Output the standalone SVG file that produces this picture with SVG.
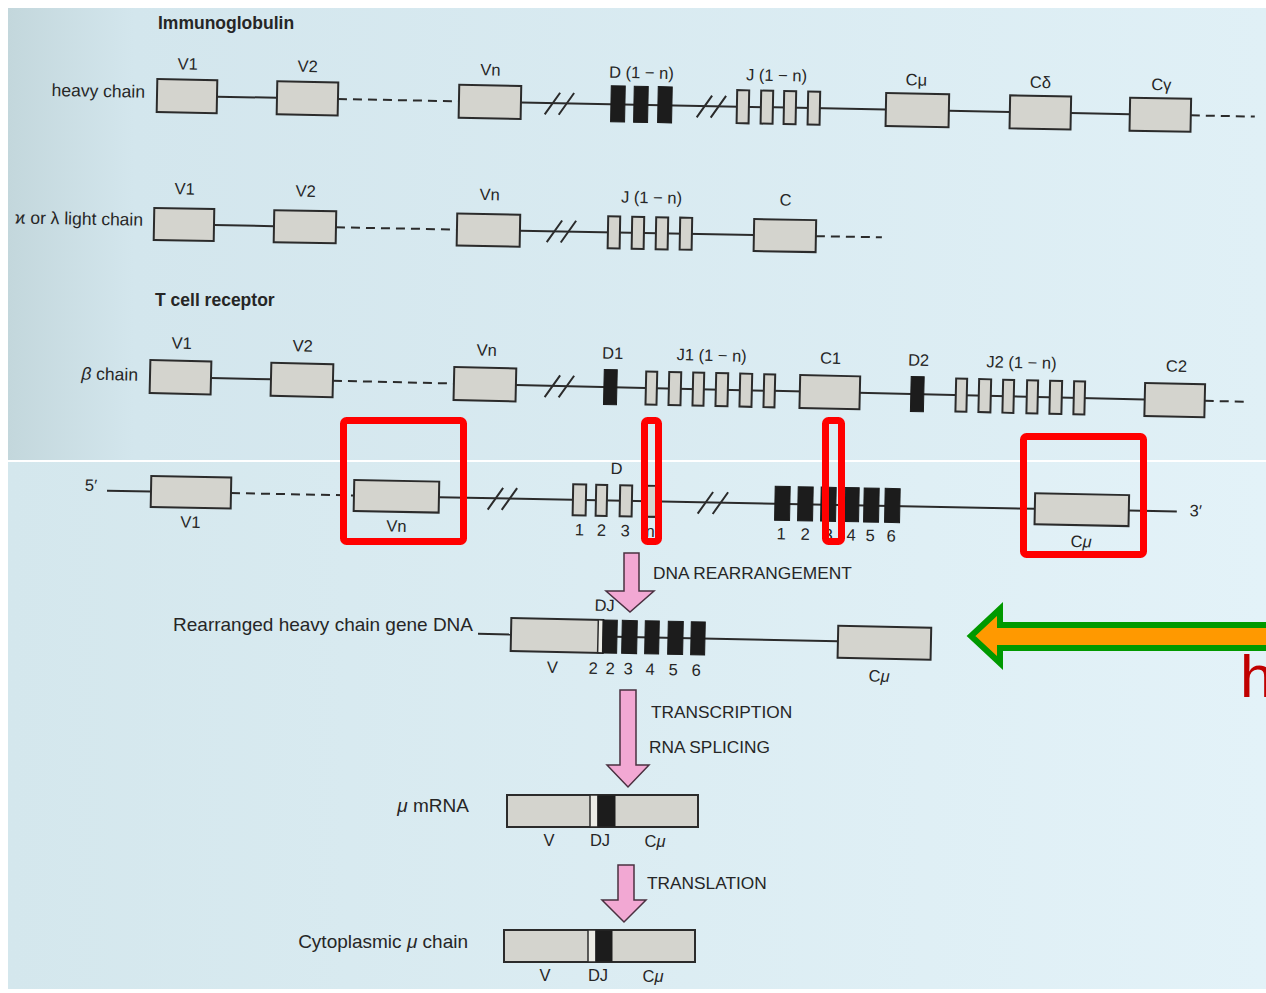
<svg xmlns="http://www.w3.org/2000/svg" width="1266" height="993" viewBox="0 0 1266 993">
<defs>
<linearGradient id="bgTop" x1="0" y1="0" x2="1" y2="0">
<stop offset="0" stop-color="#c3d7dc"/>
<stop offset="0.1" stop-color="#d3e6ed"/>
<stop offset="1" stop-color="#e0f0f6"/>
</linearGradient>
<linearGradient id="bgBot" x1="0" y1="0" x2="1" y2="0">
<stop offset="0" stop-color="#d4e7ed"/>
<stop offset="1" stop-color="#e3f2f8"/>
</linearGradient>
<style>
.t{font-family:"Liberation Sans",Arial,sans-serif;fill:#262626}
.lbl{font-size:16.5px;text-anchor:middle}
.sm{font-size:16.5px;text-anchor:middle}
.row{font-size:17.5px;text-anchor:end}
.row2{font-size:19px;text-anchor:end}
.hd{font-size:17.5px;font-weight:bold}
.step{font-size:17.3px}
.box{fill:#d4d4ce;stroke:#2b2b2b;stroke-width:2}
.strip{fill:#ecece6;stroke:#2b2b2b;stroke-width:1.5}
.blk{fill:#1c1c1c;stroke:#1c1c1c;stroke-width:1}
.ln{stroke:#2b2b2b;stroke-width:2;fill:none}
.dash{stroke:#2b2b2b;stroke-width:2;stroke-dasharray:9 6;fill:none}
.pink{fill:#f2a8d3;stroke:#4a3040;stroke-width:1.5}
.red{fill:none;stroke:#ff0000;stroke-width:7}
</style>
</defs>
<rect x="0" y="0" width="1266" height="993" fill="#ffffff"/>
<rect x="8" y="8" width="1258" height="452" fill="url(#bgTop)"/>
<rect x="8" y="462" width="1258" height="527" fill="url(#bgBot)"/>

<!-- connectors -->
<g id="connectors">
  <g transform="rotate(1.1 157 95.5)">
    <line class="ln" x1="217" y1="95.5" x2="277" y2="95.5"/>
    <line class="dash" x1="338" y1="95.5" x2="459" y2="95.5"/>
    <line class="ln" x1="521" y1="95.5" x2="886" y2="95.5"/>
    <line class="ln" x1="949" y1="95.5" x2="1010" y2="95.5"/>
    <line class="ln" x1="1071" y1="95.5" x2="1130" y2="95.5"/>
    <line class="dash" x1="1191" y1="95.5" x2="1255" y2="95.5"/>
    <path class="ln" d="M545,107 L560,85 M559,107 L574,85 M697,107 L712,85 M711,107 L726,85"/>
  </g>
  <g transform="rotate(1.05 154 224)">
    <line class="ln" x1="214" y1="224" x2="274" y2="224"/>
    <line class="dash" x1="336" y1="224" x2="457" y2="224"/>
    <line class="ln" x1="520" y1="224" x2="754" y2="224"/>
    <line class="dash" x1="816" y1="224" x2="882" y2="224"/>
    <path class="ln" d="M547,235 L562,213 M561,235 L576,213"/>
  </g>
  <g transform="rotate(1.32 150 376.5)">
    <line class="ln" x1="211" y1="376.5" x2="271" y2="376.5"/>
    <line class="dash" x1="333" y1="376.5" x2="454" y2="376.5"/>
    <line class="ln" x1="516" y1="376.5" x2="1145" y2="376.5"/>
    <line class="dash" x1="1205" y1="376.5" x2="1244" y2="376.5"/>
    <path class="ln" d="M545,388 L560,366 M559,388 L574,366"/>
  </g>
  <g transform="rotate(1.12 151 491.5)">
    <line class="ln" x1="107" y1="491.5" x2="151" y2="491.5"/>
    <line class="dash" x1="231" y1="491.5" x2="354" y2="491.5"/>
    <line class="ln" x1="439" y1="491.5" x2="1035" y2="491.5"/>
    <line class="ln" x1="1129" y1="491.5" x2="1177" y2="491.5"/>
    <path class="ln" d="M488,503 L503,481 M502,503 L517,481 M698,503 L713,481 M713,503 L728,481"/>
  </g>
  <g transform="rotate(1.2 511 634.5)">
    <line class="ln" x1="478" y1="634.5" x2="511" y2="634.5"/>
    <line class="ln" x1="603" y1="634.5" x2="838" y2="634.5"/>
  </g>
  <path id="arrow-rearrangement" class="pink" d="M624,553 H639 V591 H654 L630,612 L606,591 H624 Z"/>
  <path id="arrow-transcription" class="pink" d="M620,690 H636 V765 H649 L628,787 L607,765 H620 Z"/>
  <path id="arrow-translation" class="pink" d="M618,865 H634 V900 H646 L624,922 L602,900 H618 Z"/>
</g>

<!-- headings -->
<text class="t hd" x="158" y="29">Immunoglobulin</text>
<text class="t hd" x="155" y="306">T cell receptor</text>

<!-- row 1: heavy chain -->
<g id="ig-heavy" transform="rotate(1.1 157 95.5)">
  <text class="t row" x="145" y="98">heavy chain</text>
  <g id="ig-h-V1"><rect class="box" x="157" y="79" width="60" height="33"/><text class="t lbl" x="187" y="69">V1</text></g>
  <g id="ig-h-V2"><rect class="box" x="277" y="79" width="61" height="33"/><text class="t lbl" x="307" y="69">V2</text></g>
  <g id="ig-h-Vn"><rect class="box" x="459" y="79" width="62" height="33"/><text class="t lbl" x="490" y="69">Vn</text></g>
  <g id="ig-h-D">
    <rect class="blk" x="611" y="77" width="14" height="36"/>
    <rect class="blk" x="634" y="77" width="14" height="36"/>
    <rect class="blk" x="658" y="77" width="14" height="36"/>
    <text class="t lbl" x="641" y="69">D (1 − n)</text>
  </g>
  <g id="ig-h-J">
    <rect class="box" x="737" y="79" width="12" height="33"/>
    <rect class="box" x="761" y="79" width="12" height="33"/>
    <rect class="box" x="784" y="79" width="12" height="33"/>
    <rect class="box" x="808" y="79" width="12" height="33"/>
    <text class="t lbl" x="776" y="69">J (1 − n)</text>
  </g>
  <g id="ig-h-Cmu"><rect class="box" x="886" y="79" width="63" height="33"/><text class="t lbl" x="916" y="71">Cμ</text></g>
  <g id="ig-h-Cdelta"><rect class="box" x="1010" y="79" width="61" height="33"/><text class="t lbl" x="1040" y="71">Cδ</text></g>
  <g id="ig-h-Cgamma"><rect class="box" x="1130" y="79" width="61" height="33"/><text class="t lbl" x="1161" y="71">Cγ</text></g>
</g>

<!-- row 2: light chain -->
<g id="ig-light" transform="rotate(1.05 154 224)">
  <text class="t row" x="143" y="226">ϰ or λ light chain</text>
  <g id="ig-l-V1"><rect class="box" x="154" y="208" width="60" height="32"/><text class="t lbl" x="184" y="194">V1</text></g>
  <g id="ig-l-V2"><rect class="box" x="274" y="208" width="62" height="32"/><text class="t lbl" x="305" y="194">V2</text></g>
  <g id="ig-l-Vn"><rect class="box" x="457" y="208" width="63" height="32"/><text class="t lbl" x="489" y="194">Vn</text></g>
  <g id="ig-l-J">
    <rect class="box" x="608" y="208" width="12" height="32"/>
    <rect class="box" x="632" y="208" width="12" height="32"/>
    <rect class="box" x="656" y="208" width="12" height="32"/>
    <rect class="box" x="680" y="208" width="12" height="32"/>
    <text class="t lbl" x="651" y="194">J (1 − n)</text>
  </g>
  <g id="ig-l-C"><rect class="box" x="754" y="208" width="62" height="32"/><text class="t lbl" x="785" y="194">C</text></g>
</g>

<!-- row 3: TCR beta chain -->
<g id="tcr-beta" transform="rotate(1.32 150 376.5)">
  <text class="t row" x="138" y="381"><tspan font-style="italic">β</tspan> chain</text>
  <g id="tcr-V1"><rect class="box" x="150" y="360" width="61" height="33"/><text class="t lbl" x="181" y="348">V1</text></g>
  <g id="tcr-V2"><rect class="box" x="271" y="360" width="62" height="33"/><text class="t lbl" x="302" y="348">V2</text></g>
  <g id="tcr-Vn"><rect class="box" x="454" y="360" width="62" height="33"/><text class="t lbl" x="486" y="348">Vn</text></g>
  <g id="tcr-D1"><rect class="blk" x="604" y="359" width="13" height="35"/><text class="t lbl" x="612" y="348">D1</text></g>
  <g id="tcr-J1">
    <rect class="box" x="646" y="360" width="11" height="33"/>
    <rect class="box" x="669" y="360" width="12" height="33"/>
    <rect class="box" x="693" y="360" width="11" height="33"/>
    <rect class="box" x="716" y="360" width="12" height="33"/>
    <rect class="box" x="740" y="360" width="12" height="33"/>
    <rect class="box" x="764" y="360" width="11" height="33"/>
    <text class="t lbl" x="711" y="348">J1 (1 − n)</text>
  </g>
  <g id="tcr-C1"><rect class="box" x="800" y="360" width="60" height="33"/><text class="t lbl" x="830" y="348">C1</text></g>
  <g id="tcr-D2"><rect class="blk" x="911" y="359" width="13" height="35"/><text class="t lbl" x="918" y="348">D2</text></g>
  <g id="tcr-J2">
    <rect class="box" x="956" y="360" width="11" height="33"/>
    <rect class="box" x="979" y="360" width="12" height="33"/>
    <rect class="box" x="1003" y="360" width="11" height="33"/>
    <rect class="box" x="1027" y="360" width="11" height="33"/>
    <rect class="box" x="1050" y="360" width="12" height="33"/>
    <rect class="box" x="1074" y="360" width="11" height="33"/>
    <text class="t lbl" x="1021" y="348">J2 (1 − n)</text>
  </g>
  <g id="tcr-C2"><rect class="box" x="1145" y="360" width="60" height="33"/><text class="t lbl" x="1176" y="348">C2</text></g>
</g>

<!-- row 4: germline heavy chain -->
<g id="germline" transform="rotate(1.12 151 491.5)">
  <text class="t sm" x="91" y="492">5′</text>
  <text class="t sm" x="1196" y="496">3′</text>
  <g id="g-V1"><rect class="box" x="151" y="476" width="80" height="31"/><text class="t sm" x="191" y="527">V1</text></g>
  <g id="g-Vn"><rect class="box" x="354" y="476" width="85" height="31"/><text class="t sm" x="397" y="527">Vn</text></g>
  <g id="g-D">
    <rect class="box" x="573" y="476" width="13" height="31"/>
    <rect class="box" x="596" y="476" width="11" height="31"/>
    <rect class="box" x="620" y="476" width="12" height="31"/>
    <rect class="box" x="645" y="476" width="12" height="31"/>
    <text class="t sm" x="616" y="465">D</text>
    <text class="t sm" x="580" y="527">1</text>
    <text class="t sm" x="602" y="527">2</text>
    <text class="t sm" x="626" y="527">3</text>
    <text class="t sm" x="651" y="527">n</text>
  </g>
  <g id="g-J">
    <rect class="blk" x="775" y="474" width="15" height="34"/>
    <rect class="blk" x="798" y="474" width="15" height="34"/>
    <rect class="blk" x="821" y="474" width="15" height="34"/>
    <rect class="blk" x="845" y="474" width="14" height="34"/>
    <rect class="blk" x="864" y="474" width="15" height="34"/>
    <rect class="blk" x="885" y="474" width="15" height="34"/>
    <text class="t sm" x="782" y="527">1</text>
    <text class="t sm" x="806" y="527">2</text>
    <text class="t sm" x="829" y="527">3</text>
    <text class="t sm" x="852" y="527">4</text>
    <text class="t sm" x="871" y="527">5</text>
    <text class="t sm" x="892" y="527">6</text>
  </g>
  <g id="g-Cmu"><rect class="box" x="1035" y="476" width="94" height="31"/><text class="t sm" x="1082" y="529">C<tspan font-style="italic">μ</tspan></text></g>
</g>

<!-- red highlight boxes -->
<g id="highlights">
  <rect class="red" x="343.5" y="420.5" width="120" height="121" rx="3"/>
  <rect class="red" x="644.5" y="420.5" width="14" height="121" rx="3"/>
  <rect class="red" x="825.5" y="420.5" width="16" height="121" rx="3"/>
  <rect class="red" x="1023.5" y="436.5" width="120" height="118" rx="3"/>
</g>

<!-- step labels -->
<text class="t step" x="653" y="579">DNA REARRANGEMENT</text>
<text class="t step" x="651" y="718">TRANSCRIPTION</text>
<text class="t step" x="649" y="753">RNA SPLICING</text>
<text class="t step" x="647" y="889">TRANSLATION</text>

<!-- rearranged DNA -->
<text class="t row2" x="473" y="631">Rearranged heavy chain gene DNA</text>
<g id="rearranged" transform="rotate(1.2 511 634.5)">
  <g id="r-VDJ">
    <rect class="box" x="511" y="618" width="92" height="33"/>
    <rect class="strip" x="598" y="618" width="5" height="33"/>
    <rect class="blk" x="603" y="618" width="14" height="33"/>
    <rect class="blk" x="622" y="618" width="15" height="33"/>
    <rect class="blk" x="645" y="618" width="14" height="33"/>
    <rect class="blk" x="668" y="618" width="15" height="33"/>
    <rect class="blk" x="691" y="618" width="14" height="33"/>
    <text class="t sm" x="604" y="609">DJ</text>
    <text class="t sm" x="553" y="672">V</text>
    <text class="t sm" x="594" y="672">2</text>
    <text class="t sm" x="611" y="672">2</text>
    <text class="t sm" x="629" y="672">3</text>
    <text class="t sm" x="651" y="672">4</text>
    <text class="t sm" x="674" y="672">5</text>
    <text class="t sm" x="697" y="672">6</text>
  </g>
  <g id="r-Cmu"><rect class="box" x="838" y="619" width="93" height="32"/><text class="t sm" x="880" y="674">C<tspan font-style="italic">μ</tspan></text></g>
</g>

<!-- mRNA -->
<text class="t row2" x="469" y="812"><tspan font-style="italic">μ</tspan> mRNA</text>
<g id="mrna">
  <rect class="box" x="507" y="795" width="191" height="32"/>
  <rect class="strip" x="590" y="795" width="8" height="32"/>
  <rect class="blk" x="598" y="796" width="17" height="30"/>
  <text class="t sm" x="549" y="846">V</text>
  <text class="t sm" x="600" y="846">DJ</text>
  <text class="t sm" x="655" y="847">C<tspan font-style="italic">μ</tspan></text>
</g>

<!-- cytoplasmic chain -->
<text class="t row2" x="468" y="948">Cytoplasmic <tspan font-style="italic">μ</tspan> chain</text>
<g id="cyto">
  <rect class="box" x="504" y="930" width="191" height="32"/>
  <rect class="strip" x="588" y="930" width="8" height="32"/>
  <rect class="blk" x="596" y="931" width="16" height="30"/>
  <text class="t sm" x="545" y="981">V</text>
  <text class="t sm" x="598" y="981">DJ</text>
  <text class="t sm" x="653" y="982">C<tspan font-style="italic">μ</tspan></text>
</g>

<!-- overlay arrow and letter -->
<g id="pointer-arrow">
  <path d="M1272,625 L1000,625 L1000,609 L971,636 L1000,663 L1000,648 L1272,648 Z" fill="#ff9900" stroke="#009900" stroke-width="6" stroke-linejoin="miter"/>
</g>
<text x="1240" y="697" font-family="Liberation Sans, Arial, sans-serif" font-size="60" fill="#c00000">h</text>
</svg>
